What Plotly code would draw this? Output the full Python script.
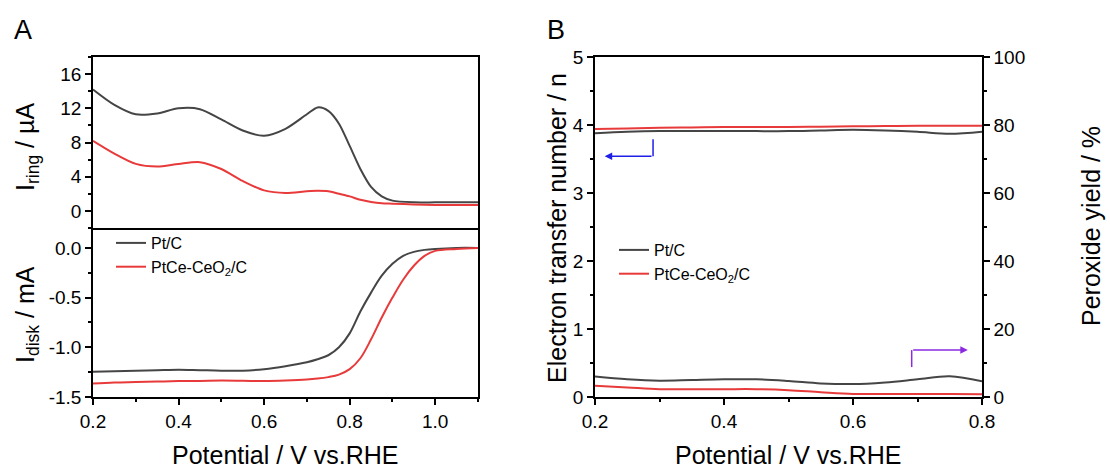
import plotly.graph_objects as go

# panel A, ring current (uA)
ring_x = [0.20, 0.25, 0.30, 0.35, 0.40, 0.45, 0.50, 0.55, 0.60, 0.65, 0.70, 0.725, 0.75,
          0.775, 0.80, 0.825, 0.85, 0.875, 0.90, 0.95, 1.00, 1.05, 1.10]
ring_ptc = [14.2, 12.4, 11.3, 11.4, 12.0, 11.9, 10.7, 9.4, 8.8, 9.6, 11.3, 12.1, 11.7,
            10.2, 7.6, 4.9, 2.8, 1.7, 1.2, 1.0, 1.0, 1.0, 1.0]
ring_ptce = [8.2, 6.7, 5.5, 5.2, 5.5, 5.7, 4.9, 3.5, 2.4, 2.1, 2.3, 2.35, 2.3,
             2.0, 1.7, 1.3, 1.05, 0.9, 0.85, 0.75, 0.7, 0.7, 0.7]

# panel A, disk current (mA)
disk_x = [0.20, 0.25, 0.30, 0.35, 0.40, 0.45, 0.50, 0.55, 0.60, 0.65, 0.70, 0.725, 0.75,
          0.775, 0.80, 0.825, 0.85, 0.875, 0.90, 0.925, 0.95, 0.975, 1.00, 1.05, 1.10]
disk_ptc = [-1.245, -1.24, -1.235, -1.23, -1.225, -1.23, -1.235, -1.235, -1.22, -1.19, -1.15,
            -1.12, -1.08, -1.00, -0.86, -0.64, -0.45, -0.28, -0.16, -0.08, -0.04, -0.02,
            -0.01, 0.0, 0.0]
disk_ptce = [-1.365, -1.355, -1.35, -1.345, -1.34, -1.338, -1.335, -1.337, -1.34, -1.335, -1.325,
             -1.315, -1.30, -1.275, -1.22, -1.11, -0.92, -0.70, -0.50, -0.32, -0.18, -0.08,
             -0.03, -0.01, 0.0]

# panel B
b_x = [0.20, 0.25, 0.30, 0.35, 0.40, 0.45, 0.50, 0.55, 0.60, 0.65, 0.70, 0.75, 0.80]
n_ptc = [3.88, 3.90, 3.91, 3.91, 3.91, 3.91, 3.91, 3.92, 3.93, 3.92, 3.90, 3.87, 3.90]
n_ptce = [3.94, 3.95, 3.96, 3.965, 3.97, 3.97, 3.97, 3.975, 3.98, 3.985, 3.99, 3.99, 3.99]
h2o2_ptc = [6.0, 5.2, 4.8, 5.0, 5.2, 5.2, 4.7, 4.0, 3.8, 4.3, 5.2, 6.1, 4.6]
h2o2_ptce = [3.3, 2.8, 2.3, 2.3, 2.3, 2.3, 2.0, 1.4, 0.9, 0.9, 0.9, 0.9, 0.8]

names = ["Pt/C", "PtCe-CeO<sub>2</sub>/C"]
GRAY = "#454545"
RED = "#e83a3a"
FONT = "Arial, Liberation Sans, sans-serif"

fig = go.Figure()
# ring (top of A)
fig.add_trace(go.Scatter(x=ring_x, y=ring_ptc, xaxis="x2", yaxis="y2", mode="lines",
                         line=dict(color=GRAY, width=2, shape="spline", smoothing=0.8), showlegend=False))
fig.add_trace(go.Scatter(x=ring_x, y=ring_ptce, xaxis="x2", yaxis="y2", mode="lines",
                         line=dict(color=RED, width=2, shape="spline", smoothing=0.8), showlegend=False))
# disk (bottom of A)
fig.add_trace(go.Scatter(x=disk_x, y=disk_ptc, xaxis="x", yaxis="y", mode="lines", name=names[0],
                         line=dict(color=GRAY, width=2, shape="spline"), legend="legend"))
fig.add_trace(go.Scatter(x=disk_x, y=disk_ptce, xaxis="x", yaxis="y", mode="lines", name=names[1],
                         line=dict(color=RED, width=2, shape="spline"), legend="legend"))
# B
fig.add_trace(go.Scatter(x=b_x, y=n_ptc, xaxis="x3", yaxis="y3", mode="lines", name=names[0],
                         line=dict(color=GRAY, width=2, shape="spline"), legend="legend2"))
fig.add_trace(go.Scatter(x=b_x, y=n_ptce, xaxis="x3", yaxis="y3", mode="lines", name=names[1],
                         line=dict(color=RED, width=2, shape="spline"), legend="legend2"))
fig.add_trace(go.Scatter(x=b_x, y=h2o2_ptc, xaxis="x3", yaxis="y4", mode="lines",
                         line=dict(color=GRAY, width=2, shape="spline"), showlegend=False))
fig.add_trace(go.Scatter(x=b_x, y=h2o2_ptce, xaxis="x3", yaxis="y4", mode="lines",
                         line=dict(color=RED, width=2, shape="spline"), showlegend=False))

ax = dict(showline=True, linecolor="black", linewidth=1.5, mirror=True, ticks="outside",
          ticklen=6, tickwidth=1.5, tickcolor="black", showgrid=False, zeroline=False,
          automargin=False, tickfont=dict(size=19, color="black"))

def minor(d):
    return dict(dtick=d, ticks="outside", ticklen=3, tickwidth=1.5, tickcolor="black", showgrid=False)

xa_dom = [93 / 1110, 478 / 1110]
xb_dom = [595 / 1110, 982 / 1110]
y_bot, y_mid, y_top = 1 - 397 / 472, 1 - 228 / 472, 1 - 57 / 472

fig.update_layout(
    width=1110, height=472, margin=dict(l=0, r=0, t=0, b=0),
    paper_bgcolor="white", plot_bgcolor="white",
    font=dict(family=FONT, color="black"),
    xaxis=dict(ax, domain=xa_dom, anchor="y", range=[0.2, 1.1], tick0=0.2, dtick=0.2,
               tickformat=".1f", minor=minor(0.1), mirror=False),
    yaxis=dict(ax, domain=[y_bot, y_mid], anchor="x", range=[-1.5, 0.2],
               tickvals=[-1.5, -1.0, -0.5, 0.0], ticktext=["-1.5", "-1.0", "-0.5", "0.0"],
               minor=minor(0.25)),
    xaxis2=dict(ax, domain=xa_dom, anchor="y2", range=[0.2, 1.1], ticks="",
                showticklabels=False),
    yaxis2=dict(ax, domain=[y_mid, y_top], anchor="x2", range=[-2, 18], tick0=0, dtick=4,
                minor=minor(2)),
    xaxis3=dict(ax, domain=xb_dom, anchor="y3", range=[0.2, 0.8], tick0=0.2, dtick=0.2,
                tickformat=".1f", minor=minor(0.1)),
    yaxis3=dict(ax, domain=[y_bot, y_top], anchor="x3", range=[0, 5], dtick=1,
                mirror=False, minor=minor(0.5)),
    yaxis4=dict(ax, overlaying="y3", side="right", anchor="x3", range=[0, 100], dtick=20,
                mirror=False, minor=minor(10)),
    legend=dict(x=111 / 1110, y=1 - 226 / 472, xanchor="left", yanchor="top",
                bgcolor="rgba(0,0,0,0)", font=dict(size=16), tracegroupgap=0),
    legend2=dict(x=614 / 1110, y=1 - 233 / 472, xanchor="left", yanchor="top",
                 bgcolor="rgba(0,0,0,0)", font=dict(size=16), tracegroupgap=0),
)

ann = [
    dict(text="A", x=12, y=30),
    dict(text="B", x=545, y=30),
]
annotations = []
for a in ann:
    annotations.append(dict(text=a["text"], x=a["x"] / 1110, y=1 - a["y"] / 472, xref="paper",
                            yref="paper", xanchor="left", yanchor="middle", showarrow=False,
                            font=dict(size=27)))
titles = [
    ("I<sub>ring</sub> / µA", 27, 147, -90),
    ("I<sub>disk</sub> / mA", 27, 315, -90),
    ("Electron transfer number / n", 557, 228, -90),
    ("Peroxide yield / %", 1091, 226, -90),
    ("Potential / V vs.RHE", 285, 455, 0),
    ("Potential / V vs.RHE", 788, 455, 0),
]
for t, x, y, ang in titles:
    annotations.append(dict(text=t, x=x / 1110, y=1 - y / 472, xref="paper", yref="paper",
                            xanchor="center", yanchor="middle", showarrow=False,
                            textangle=ang, font=dict(size=25)))

# bent arrows pointing to the axes
BLUE = "#1f1fe8"
PURPLE = "#8a2be2"
annotations.append(dict(x=0.215, y=3.54, ax=0.29, ay=3.54, xref="x3", yref="y3", axref="x3",
                        ayref="y3", text="", showarrow=True, arrowhead=2, arrowsize=1,
                        arrowwidth=1.5, arrowcolor=BLUE))
annotations.append(dict(x=0.778, y=0.69, ax=0.691, ay=0.69, xref="x3", yref="y3", axref="x3",
                        ayref="y3", text="", showarrow=True, arrowhead=2, arrowsize=1,
                        arrowwidth=1.5, arrowcolor=PURPLE))
fig.update_layout(annotations=annotations)
fig.add_shape(type="line", xref="x3", yref="y3", x0=0.29, x1=0.29, y0=3.79, y1=3.54,
              line=dict(color=BLUE, width=1.5))
fig.add_shape(type="line", xref="x3", yref="y3", x0=0.691, x1=0.691, y0=0.44, y1=0.69,
              line=dict(color=PURPLE, width=1.5))

# drop the default page margin so the figure sits at the window corner
fig.write_html("out.html", config={"displayModeBar": False},
               post_script="document.body.style.margin='0';")
